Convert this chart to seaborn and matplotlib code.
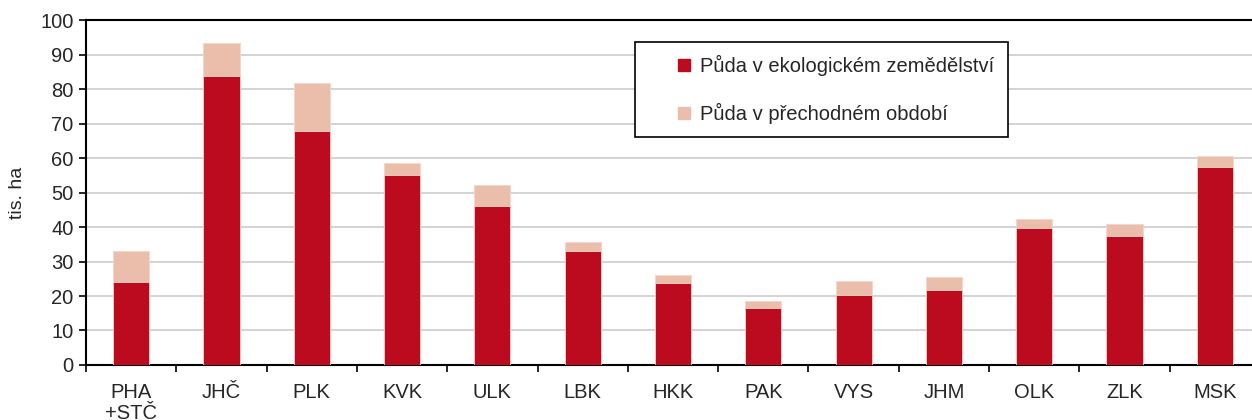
import numpy as np
import pandas as pd
import matplotlib
matplotlib.use("Agg")
import matplotlib.pyplot as plt
import seaborn as sns
from matplotlib.lines import Line2D

# regions and values (tis. ha)
regions = ['PHA\n+STČ', 'JHČ', 'PLK', 'KVK', 'ULK', 'LBK', 'HKK', 'PAK', 'VYS', 'JHM', 'OLK', 'ZLK', 'MSK']
eko = [24.1, 83.9, 67.9, 55.2, 46.1, 33.0, 23.8, 16.4, 20.4, 21.6, 39.7, 37.4, 57.5]
prechod = [8.9, 9.4, 13.8, 3.3, 6.0, 2.7, 2.3, 2.2, 4.0, 4.0, 2.6, 3.4, 3.1]

label_eko = 'Půda v ekologickém zemědělství'
label_pre = 'Půda v přechodném období'
red = '#BC0A1F'
pink = '#EBBDAB'

df = pd.DataFrame({'region': regions, 'eko': eko, 'prechod': prechod})
df['total'] = df['eko'] + df['prechod']

sns.set_style('white')
plt.rcParams['font.family'] = ['Liberation Sans', 'DejaVu Sans']

fig = plt.figure(figsize=(12.52, 4.2), dpi=100)
# the plot area runs a little past the right edge of the picture
ax = fig.add_axes([0.0687, 0.131, 0.9377, 0.821])

# stacked bars: total (light) behind, organic part (red) in front
sns.barplot(data=df, x='region', y='total', color=pink, saturation=1, width=0.4,
            edgecolor='#f3d6cc', linewidth=0.6, ax=ax, zorder=2)
sns.barplot(data=df, x='region', y='eko', color=red, saturation=1, width=0.4,
            edgecolor='#f3d6cc', linewidth=0.6, ax=ax, zorder=3)

ax.set_xlim(-0.5, len(regions) - 0.5)
ax.set_ylim(0, 100)
ax.set_yticks(np.arange(0, 101, 10))
ax.yaxis.grid(True, color='#cccccc', linewidth=1.2, zorder=0)
ax.set_axisbelow(True)

ax.set_xlabel('')
ax.set_ylabel('tis. ha', fontsize=14, labelpad=10)

# tick marks between categories, labels centred
ax.set_xticks(np.arange(-0.5, len(regions), 1), minor=True)
ax.tick_params(axis='x', which='major', length=0, pad=13, labelsize=14.5)
ax.tick_params(axis='x', which='minor', direction='out', length=5, width=1.2, color='black', bottom=True)
ax.tick_params(axis='y', direction='out', length=5, width=1.2, color='black', left=True, labelsize=14.5, pad=4)
for lab in ax.get_xticklabels():
    lab.set_linespacing(1.1)

for s in ['left', 'bottom', 'top', 'right']:
    ax.spines[s].set_visible(True)
    ax.spines[s].set_color('black')
    ax.spines[s].set_linewidth(1.5)

handles = [Line2D([], [], marker='s', linestyle='none', markersize=8.5, color=red),
           Line2D([], [], marker='s', linestyle='none', markersize=8.5, color=pink)]
leg = ax.legend(handles, [label_eko, label_pre], loc='upper left',
                bbox_to_anchor=(0.4675, 0.937), borderaxespad=0, fontsize=14.5,
                frameon=True, fancybox=False, edgecolor='black', framealpha=1,
                borderpad=0.65, labelspacing=1.35, handlelength=3.6, handletextpad=-1.0)
leg.get_frame().set_linewidth(1.2)

fig.savefig('out.png', dpi=100)
